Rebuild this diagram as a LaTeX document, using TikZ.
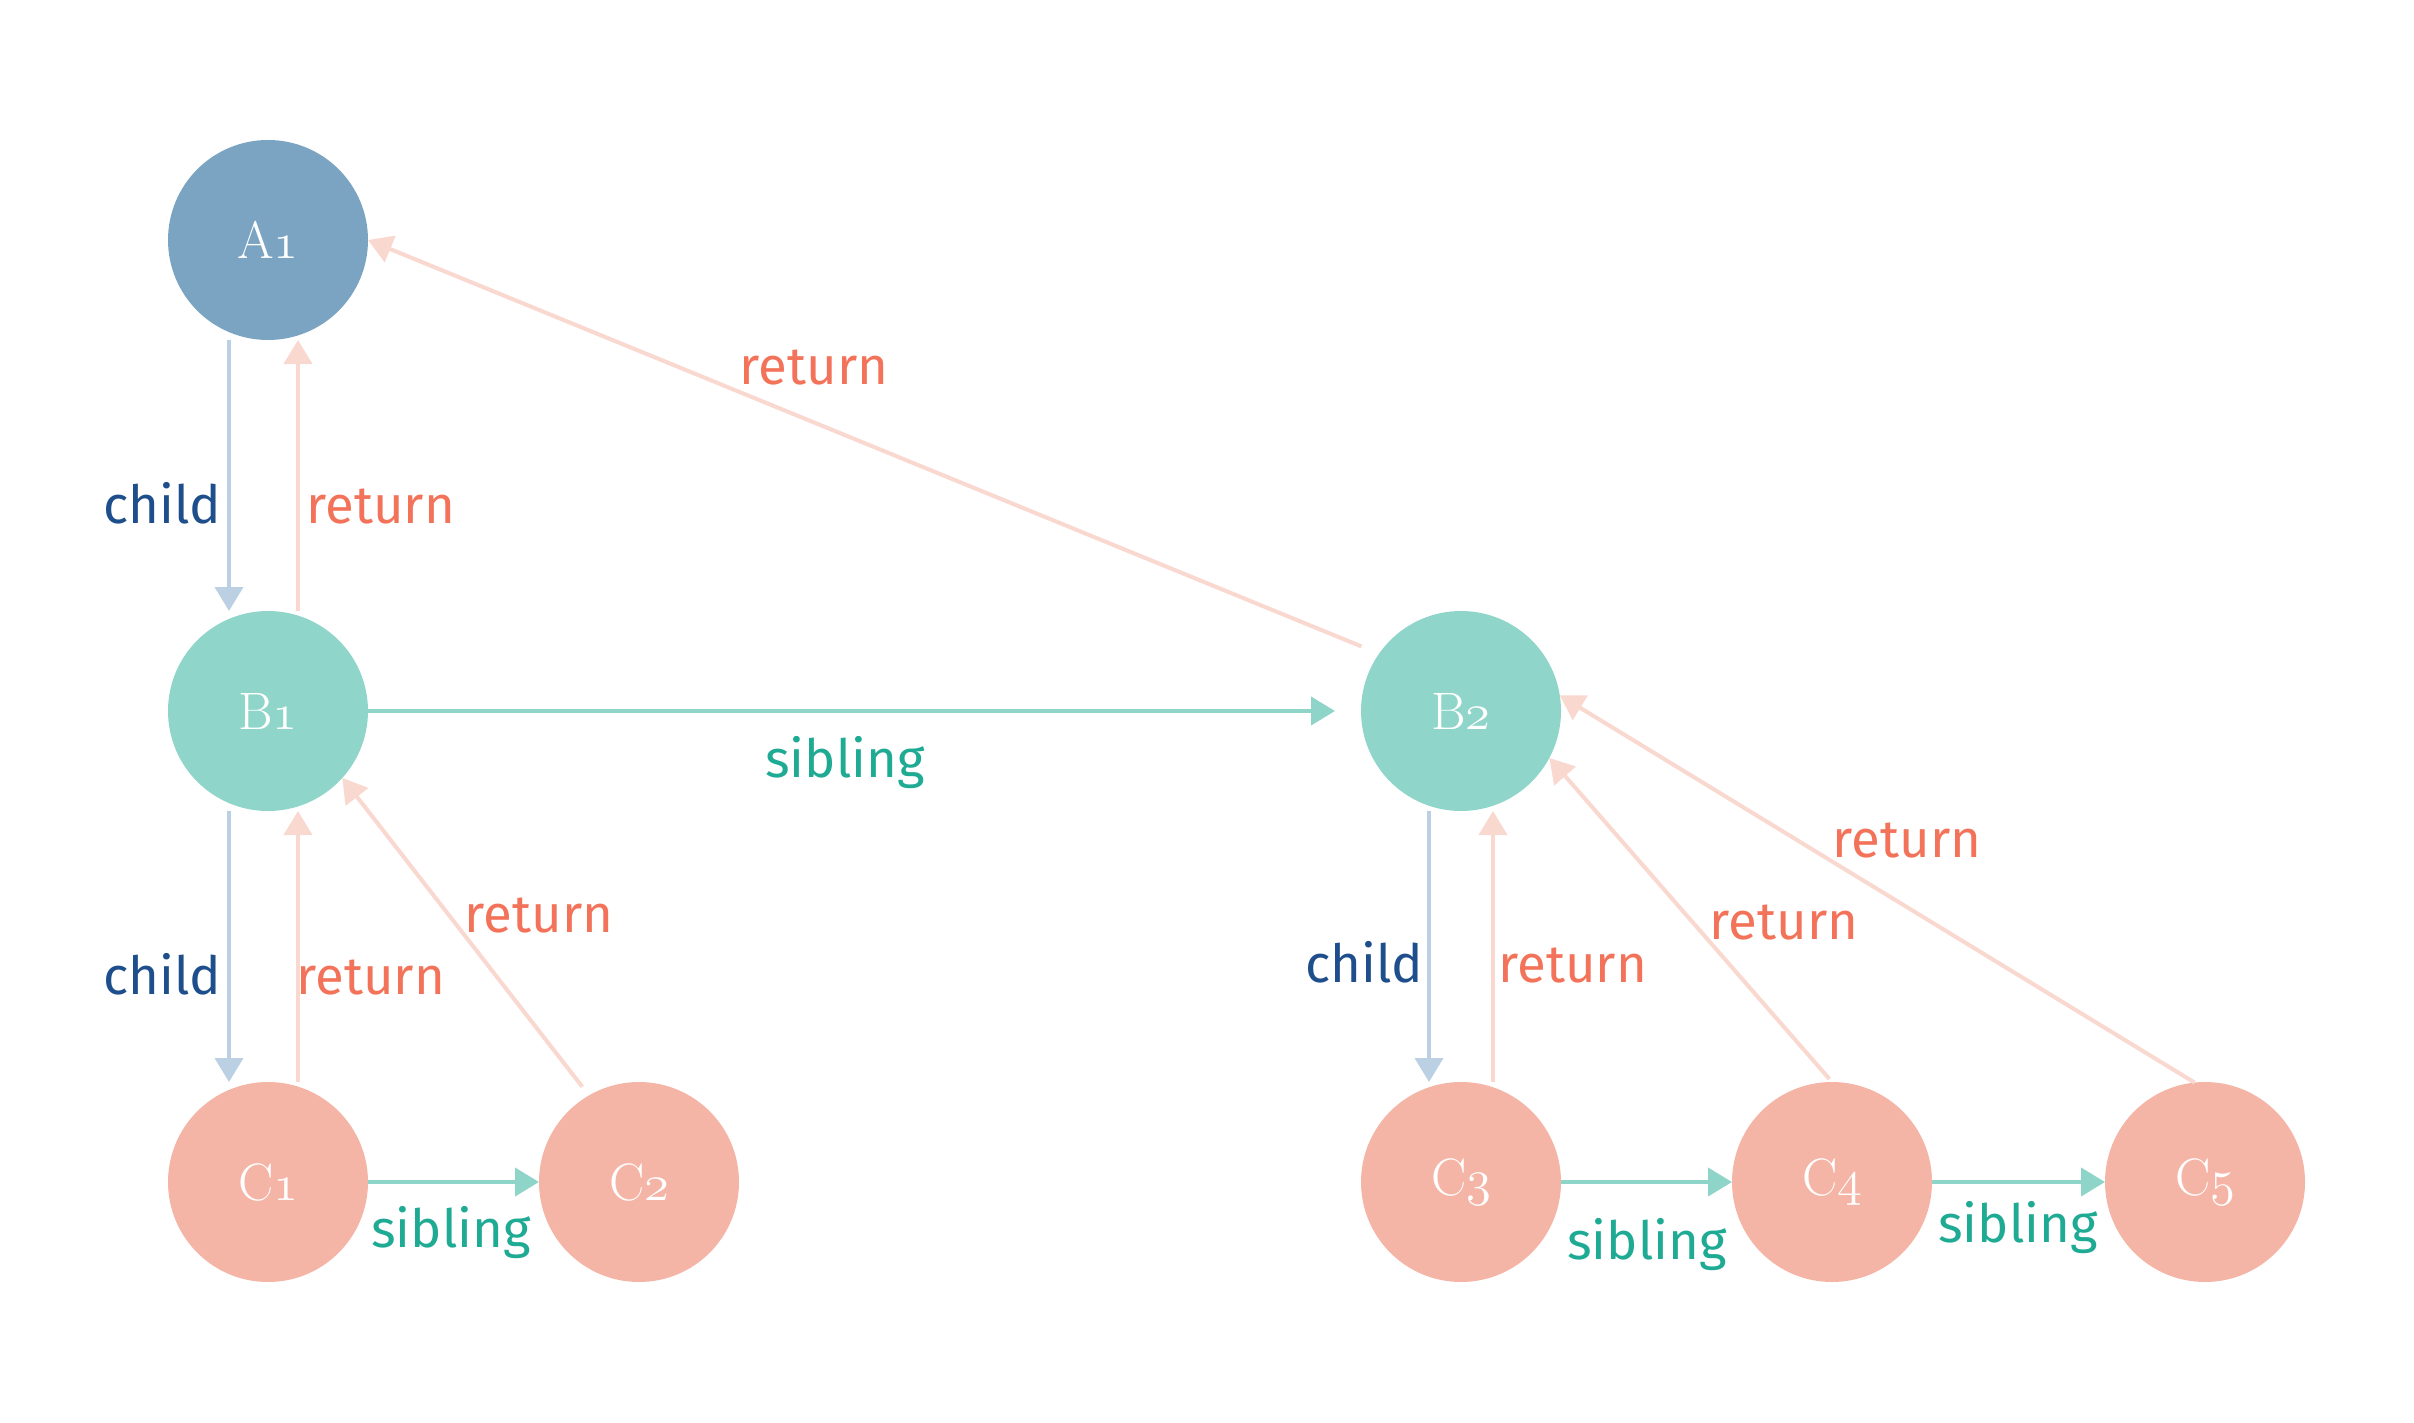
\documentclass[tikz,border=0pt]{standalone}
\usepackage{fontspec}
\usepackage{xcolor}
\usepackage{tikz}
\usetikzlibrary{arrows.meta}

\newfontfamily\edgefont{Fira Sans}

\definecolor{afill}{HTML}{7BA3C2}
\definecolor{bfill}{HTML}{90D5CA}
\definecolor{cfill}{HTML}{F5B5A6}
\definecolor{childline}{HTML}{BBD1E3}
\definecolor{childtext}{HTML}{1E4F8C}
\definecolor{retline}{HTML}{F9D8CF}
\definecolor{rettext}{HTML}{F27359}
\definecolor{sibline}{HTML}{8FD4C9}
\definecolor{sibtext}{HTML}{1FAA94}

\begin{document}
\begin{tikzpicture}[
	vert/.style={circle, minimum size=2cm, inner sep=0pt, outer sep=0pt, text=white, font=\fontsize{15}{18}\selectfont},
	tip/.style={-{Triangle[length=0.24cm,width=0.28cm]}, line width=1.15pt},
	childarr/.style={tip, draw=childline},
	retarr/.style={tip, draw=retline},
	sibarr/.style={tip, draw=sibline},
	lbl/.style={inner sep=0pt, font=\edgefont\fontsize{15}{18}\selectfont},
	childlbl/.style={lbl, text=childtext},
	retlbl/.style={lbl, text=rettext},
	siblbl/.style={lbl, text=sibtext}
]
	\useasboundingbox (0,0) rectangle (24.14,14.22);

	\node[vert, fill=afill] (A1) at (2.68,11.82) {A$\mathnormal{1}$};
	\node[vert, fill=bfill] (B1) at (2.68,7.11) {B$\mathnormal{1}$};
	\node[vert, fill=bfill] (B2) at (14.61,7.11) {B$\mathnormal{2}$};
	\node[vert, fill=cfill] (C1) at (2.68,2.40) {C$\mathnormal{1}$};
	\node[vert, fill=cfill] (C2) at (6.39,2.40) {C$\mathnormal{2}$};
	\node[vert, fill=cfill] (C3) at (14.61,2.40) {C$\mathnormal{3}$};
	\node[vert, fill=cfill] (C4) at (18.32,2.40) {C$\mathnormal{4}$};
	\node[vert, fill=cfill] (C5) at (22.05,2.40) {C$\mathnormal{5}$};

	\draw[childarr] ([xshift=-0.39cm]A1.south) -- ([xshift=-0.39cm]B1.north);
	\draw[retarr] ([xshift=0.30cm]B1.north) -- ([xshift=0.30cm]A1.south);
	\draw[childarr] ([xshift=-0.39cm]B1.south) -- ([xshift=-0.39cm]C1.north);
	\draw[retarr] ([xshift=0.30cm]C1.north) -- ([xshift=0.30cm]B1.south);
	\draw[childarr] ([xshift=-0.32cm]B2.south) -- ([xshift=-0.32cm]C3.north);
	\draw[retarr] ([xshift=0.32cm]C3.north) -- ([xshift=0.32cm]B2.south);

	\draw[retarr, shorten <=0.19cm] (B2.145.6) -- (A1.east);
	\draw[retarr, shorten <=0.11cm] (C2.120) -- (B1.-42);
	\draw[retarr, shorten <=0.04cm] (C4.north) -- (B2.-28);
	\draw[retarr] (C5.96) -- (B2.9);

	\draw[sibarr, shorten >=0.26cm] (B1.east) -- (B2.west);
	\draw[sibarr] (C1.east) -- (C2.west);
	\draw[sibarr] (C3.east) -- (C4.west);
	\draw[sibarr] (C4.east) -- (C5.west);

	\node[childlbl, anchor=base east] (lchildA) at (2.22,8.99) {child};
	\node[retlbl, anchor=base west] (lretA) at (3.06,8.99) {return};
	\node[retlbl, anchor=base] (lretB2A) at (8.14,10.38) {return};
	\node[childlbl, anchor=base east] (lchildB) at (2.22,4.28) {child};
	\node[retlbl, anchor=base west] (lretB) at (2.96,4.28) {return};
	\node[retlbl, anchor=base] (lretC2) at (5.39,4.90) {return};
	\node[childlbl, anchor=base east] (lchildB2) at (14.24,4.40) {child};
	\node[retlbl, anchor=base west] (lretB2) at (14.98,4.40) {return};
	\node[retlbl, anchor=base] (lretC4) at (17.84,4.83) {return};
	\node[retlbl, anchor=base] (lretC5) at (19.07,5.65) {return};

	\node[siblbl, anchor=base] (lsibB) at (8.45,6.45) {sibling};
	\node[siblbl, anchor=base] (lsibC1) at (4.51,1.75) {sibling};
	\node[siblbl, anchor=base] (lsibC3) at (16.47,1.63) {sibling};
	\node[siblbl, anchor=base] (lsibC4) at (20.18,1.80) {sibling};

\end{tikzpicture}
\end{document}
